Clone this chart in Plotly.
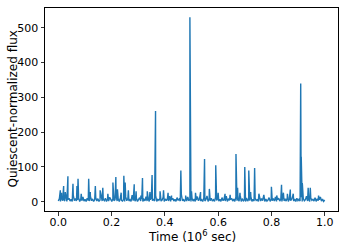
import numpy as np
import plotly.graph_objects as go

# Quiescent baseline samples (evenly spaced over 0..1 x10^6 sec)
baseline = [
    2, 9, 1, 12, 3, 8, 2, 15, 1, 6, 10, 2, 7, 1, 18, 3, 9, 2, 5, 11, 1, 8, 3, 14, 2,
    7, 1, 10, 4, 2, 16, 3, 8, 1, 6, 12, 2, 9, 1, 5, 20, 2, 7, 3, 10, 1, 8, 2, 13, 4,
    1, 9, 3, 6, 17, 2, 8, 1, 11, 4, 2, 7, 1, 14, 3, 9, 2, 6, 1, 19, 3, 8, 2, 10, 1,
    5, 12, 2, 8, 1, 7, 3, 15, 2, 9, 1, 6, 11, 3, 8, 2, 18, 1, 7, 4, 10, 2, 5, 13, 1,
    8, 3, 9, 2, 16, 1, 6, 10, 2, 7, 1, 12, 4, 8, 2, 21, 3, 6, 1, 9, 2, 14, 3, 7, 1,
    10, 2, 8, 1, 5, 15, 3, 9, 2, 6, 1, 11, 2, 7, 17, 1, 8, 3, 10, 2, 6, 1, 13, 4, 9,
    2, 7, 1, 12, 3, 8, 2, 16, 1, 9, 4, 6, 10, 2, 8, 1, 14, 3, 7, 2, 19, 1, 9, 3, 6,
    1, 11, 2, 8, 3, 15, 1, 7, 2, 10, 4, 6, 1, 13, 2, 9, 3, 18, 1, 8, 2, 5, 12, 1, 7,
    3, 9, 2, 14, 1, 6, 10, 2, 8, 1, 17, 3, 7, 2, 11, 1, 9, 4, 6, 15, 2, 8, 1, 10, 3,
    7, 2, 13, 1, 9, 3, 6, 16, 2, 8, 1, 11, 4, 7, 2, 12, 1, 9, 3, 6, 14, 2, 8, 1, 5,
]
baseline_time = np.linspace(0.0, 1.0, len(baseline))

# Flare peaks: time (10^6 sec) and flux
flare_time = [
    0.0075, 0.012, 0.020, 0.026, 0.036, 0.055, 0.070, 0.074, 0.086, 0.114,
    0.120, 0.139, 0.157, 0.167, 0.186, 0.205, 0.216, 0.222, 0.236, 0.246,
    0.251, 0.263, 0.285, 0.292, 0.310, 0.316, 0.334, 0.344, 0.352, 0.365,
    0.382, 0.395, 0.412, 0.425, 0.460, 0.478, 0.494, 0.500, 0.515, 0.534,
    0.549, 0.567, 0.591, 0.600, 0.626, 0.645, 0.667, 0.673, 0.682, 0.700,
    0.715, 0.722, 0.737, 0.753, 0.772, 0.800, 0.820, 0.838, 0.845, 0.860,
    0.871, 0.882, 0.910, 0.912, 0.916, 0.938, 0.946, 0.977,
]
flare_flux = [
    33, 26, 45, 28, 73, 52, 45, 66, 23, 66,
    28, 45, 33, 40, 23, 55, 71, 36, 26, 75,
    55, 33, 50, 30, 18, 68, 30, 28, 77, 261,
    30, 33, 26, 18, 90, 18, 530, 30, 26, 28,
    123, 37, 105, 26, 23, 20, 137, 40, 26, 100,
    90, 28, 97, 23, 18, 43, 18, 49, 26, 23,
    35, 23, 340, 129, 54, 40, 40, 18,
]

t_all = np.concatenate([baseline_time, np.array(flare_time)])
f_all = np.concatenate([np.array(baseline, float), np.array(flare_flux, float)])
order = np.argsort(t_all, kind="stable")

fig = go.Figure(go.Scatter(
    x=t_all[order], y=f_all[order], mode="lines",
    line=dict(color="#1f77b4", width=1.4),
    hoverinfo="skip", showlegend=False,
))

tick_font = dict(family="DejaVu Sans", size=11, color="black")
title_font = dict(family="DejaVu Sans", size=12, color="black")
axis_common = dict(
    showline=True, linecolor="black", linewidth=1, mirror=True,
    ticks="outside", ticklen=3.5, tickwidth=0.8, tickcolor="black",
    showgrid=False, zeroline=False, tickfont=tick_font,
)
fig.update_layout(
    width=347, height=249,
    margin=dict(l=45, r=9, t=8, b=38),
    paper_bgcolor="white", plot_bgcolor="white",
    font=tick_font,
    xaxis=dict(range=[-0.05, 1.05], tickvals=[0, 0.2, 0.4, 0.6, 0.8, 1.0],
               tickformat=".1f", ticklabelstandoff=-3, **axis_common),
    yaxis=dict(range=[-26.5, 556.5], tickvals=[0, 100, 200, 300, 400, 500],
               **axis_common),
    annotations=[
        dict(text="Quiescent-normalized flux", textangle=-90,
             xref="paper", yref="paper", x=(12 - 45) / 293, y=0.5,
             xanchor="center", yanchor="middle", showarrow=False, font=title_font),
        dict(text="Time (10<sup>6</sup> sec)",
             xref="paper", yref="paper", x=0.5, y=-(236 - 211) / 203,
             xanchor="center", yanchor="middle", showarrow=False, font=title_font),
    ],
)

fig.write_html(
    "out.html",
    config={"displayModeBar": False, "staticPlot": True},
    post_script="document.body.style.margin='0';document.body.style.overflow='hidden';",
)
